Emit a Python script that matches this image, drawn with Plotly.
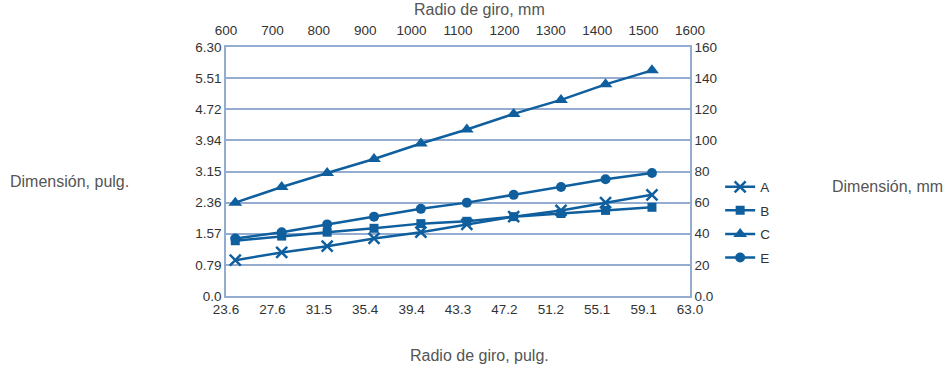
import plotly.graph_objects as go

# Radius of gyration (mm) for each measured point
radio_mm = [620, 720, 818, 919, 1020, 1119, 1220, 1322, 1418, 1518]

# Dimension values (mm) per series
serie_a = [23, 28, 32, 37, 41, 46, 51, 55, 60, 65]
serie_b = [35.5, 38.5, 41, 43.5, 46.5, 48, 51, 53, 55, 57]
serie_c = [60, 70, 79, 88, 98, 107, 117, 126, 136, 145]
serie_e = [37, 41, 46, 51, 56, 60, 65, 70, 75, 79]

# Axis ticks
x_ticks_mm = [600, 700, 800, 900, 1000, 1100, 1200, 1300, 1400, 1500, 1600]
x_labels_mm = ["600", "700", "800", "900", "1000", "1100", "1200", "1300", "1400", "1500", "1600"]
x_labels_in = ["23.6", "27.6", "31.5", "35.4", "39.4", "43.3", "47.2", "51.2", "55.1", "59.1", "63.0"]
y_ticks_mm = [0, 20, 40, 60, 80, 100, 120, 140, 160]
y_labels_in = ["0.0", "0.79", "1.57", "2.36", "3.15", "3.94", "4.72", "5.51", "6.30"]
y_labels_mm = ["0.0", "20", "40", "60", "80", "100", "120", "140", "160"]

BLUE = "#0f5f9e"
GRID = "#94acd0"
FONT = "Liberation Sans, Arial, Helvetica, sans-serif"
TICK_COLOR = "#333333"
TITLE_COLOR = "#555555"
TICK_SIZE = 13.5

series = [
    ("A", serie_a, dict(symbol="x-thin", size=11, line=dict(width=2.5, color=BLUE), color=BLUE)),
    ("B", serie_b, dict(symbol="square", size=9, color=BLUE)),
    ("C", serie_c, dict(symbol="triangle-up", size=12, color=BLUE)),
    ("E", serie_e, dict(symbol="circle", size=10, color=BLUE)),
]

fig = go.Figure()
for name, vals, marker in series:
    fig.add_trace(go.Scatter(
        x=radio_mm, y=vals, name=name, legendgroup=name,
        mode="lines+markers", line=dict(color=BLUE, width=2.5),
        marker=marker, xaxis="x2", yaxis="y2",
    ))

# Invisible copy so the bottom/left axes have data bound to them
fig.add_trace(go.Scatter(
    x=radio_mm, y=serie_a, mode="markers", marker=dict(opacity=0),
    showlegend=False, hoverinfo="skip", xaxis="x", yaxis="y",
))

axis_common = dict(
    showline=True, linecolor=GRID, linewidth=1.5, mirror=False,
    ticks="", tickfont=dict(family=FONT, size=TICK_SIZE, color=TICK_COLOR),
    zeroline=False, fixedrange=True,
)

fig.update_layout(
    width=943, height=367,
    margin=dict(l=226, r=253, t=47, b=71),
    paper_bgcolor="white", plot_bgcolor="white",
    font=dict(family=FONT, size=TICK_SIZE, color=TICK_COLOR),
    xaxis=dict(range=[600, 1600], tickvals=x_ticks_mm, ticktext=x_labels_in,
               showgrid=False, side="bottom", ticklabelstandoff=0, **axis_common),
    xaxis2=dict(range=[600, 1600], tickvals=x_ticks_mm, ticktext=x_labels_mm,
                showgrid=False, side="top", overlaying="x", anchor="y",
                ticklabelstandoff=5, **axis_common),
    yaxis=dict(range=[0, 160], tickvals=y_ticks_mm, ticktext=y_labels_in,
               showgrid=True, gridcolor=GRID, gridwidth=1.5, side="left", **axis_common),
    yaxis2=dict(range=[0, 160], tickvals=y_ticks_mm, ticktext=y_labels_mm,
                showgrid=False, side="right", overlaying="y", anchor="x", **axis_common),
    legend=dict(x=1.065, y=0.5, xanchor="left", yanchor="top",
                font=dict(family=FONT, size=TICK_SIZE, color=TICK_COLOR),
                tracegroupgap=3, itemwidth=30, bgcolor="rgba(0,0,0,0)"),
    showlegend=True,
)

title_font = dict(family=FONT, size=16, color=TITLE_COLOR)
annotations = [
    dict(text="Radio de giro, mm", x=0.547, y=1.149, xanchor="center", yanchor="middle"),
    dict(text="Radio de giro, pulg.", x=0.547, y=-0.237, xanchor="center", yanchor="middle"),
    dict(text="Dimensión, pulg.", x=-0.47, y=0.458, xanchor="left", yanchor="middle"),
    dict(text="Dimensión, mm", x=1.302, y=0.438, xanchor="left", yanchor="middle"),
]
for a in annotations:
    fig.add_annotation(xref="paper", yref="paper", showarrow=False, font=title_font, **a)

fig.write_html("out.html")
